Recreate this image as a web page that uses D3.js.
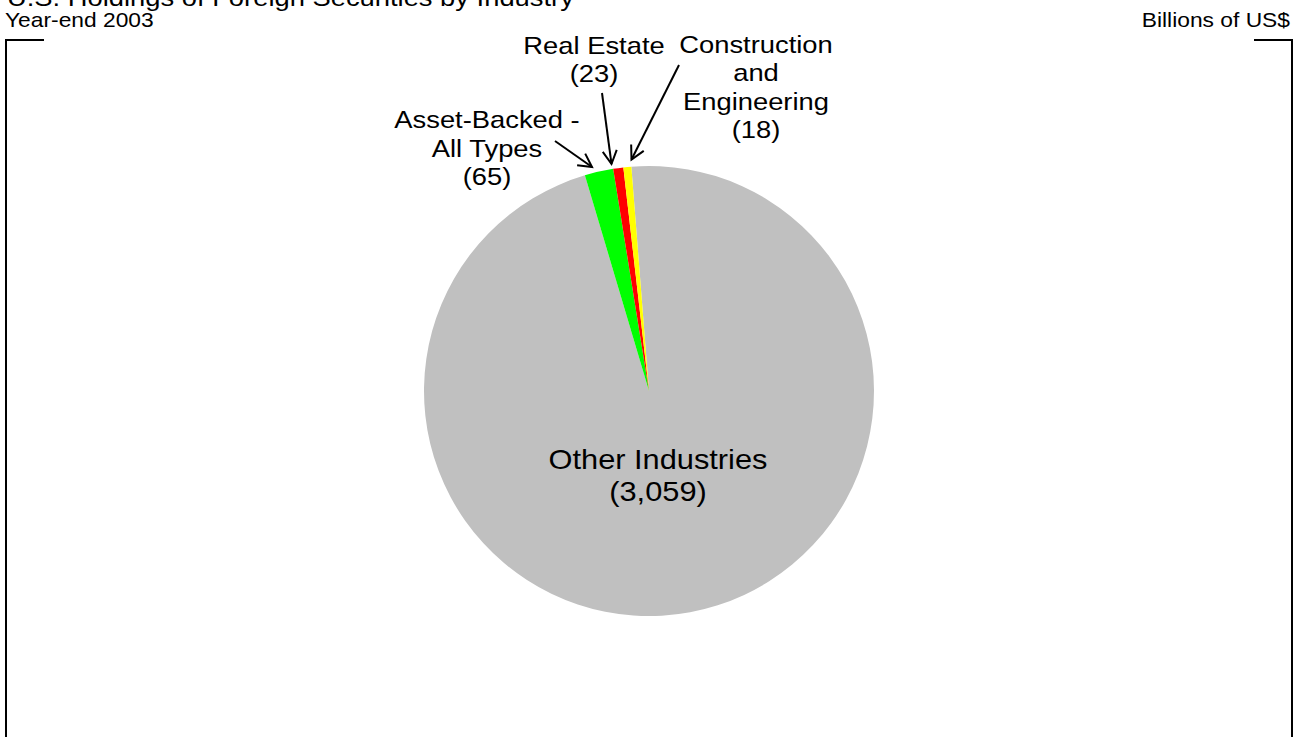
<!DOCTYPE html>
<html>
<head>
<meta charset="utf-8">
<script src="https://cdn.jsdelivr.net/npm/d3@7"></script>
<style>
  body { margin: 0; background: #fff; }
  svg { display: block; }
  text { font-family: "Liberation Sans", Arial, sans-serif; fill: #000; }
</style>
</head>
<body>
<div id="chart"></div>
<script>
/************
*** DATA ***
************/

// slices in drawing order (clockwise from just left of 12 o'clock)
const categories = ["Other Industries", "Asset-Backed - All Types", "Real Estate", "Construction and Engineering"];
const values = [3059, 65, 23, 18];
const sliceColors = ["#c0c0c0", "#00ff00", "#ff0000", "#ffff00"];

// text lines of each label (value line is added from values)
const labelLines = [
  ["Other Industries"],
  ["Asset-Backed -", "All Types"],
  ["Real Estate"],
  ["Construction", "and", "Engineering"]
];

/**************
*** LAYOUT ***
**************/

const W = 1304, H = 737;
const cx = 649, cy = 391, rad = 225;
const startDeg = -4.5;        // where the first slice begins
const sx = 1.14;              // text in the picture is a bit wide

// label anchors: centre x, first baseline, line height, font size
// plus leader arrow (tail -> tip) for the small slices
const labelPos = [
  {x: 658, y: 469, lh: 32, fs: 27, arrow: null},
  {x: 487, y: 128, lh: 28.5, fs: 24, arrow: [[555, 141], [592, 167]]},
  {x: 594, y: 54, lh: 28.3, fs: 24, arrow: [[602, 93], [611.5, 164]]},
  {x: 756, y: 53, lh: 28.3, fs: 24, arrow: [[679, 65], [631.5, 159.5]]}
];

const fmt = d3.format(",");

const svg = d3.select("#chart").append("svg")
  .attr("width", W)
  .attr("height", H);

/*************
*** FRAME ***
*************/

const frame = svg.append("g")
  .attr("fill", "none")
  .attr("stroke", "#000")
  .attr("stroke-width", 2);

frame.append("path").attr("d", "M44,40 H6 V740");
frame.append("path").attr("d", "M1254,40 H1292 V740");

/*************
*** TITLES ***
*************/

function wideText(sel, x, y, size, anchor, str) {
  return sel.append("text")
    .attr("transform", "translate(" + x + "," + y + ") scale(" + sx + ",1)")
    .attr("text-anchor", anchor)
    .attr("font-size", size)
    .text(str);
}

wideText(svg, 7, 6, 24, "start", "U.S. Holdings of Foreign Securities by Industry");
wideText(svg, 5, 27, 20, "start", "Year-end 2003");
wideText(svg, 1290, 27, 20, "end", "Billions of US$");

/**********
*** PIE ***
**********/

const pie = d3.pie()
  .sort(null)
  .value(d => d)
  .startAngle(startDeg * Math.PI / 180)
  .endAngle(startDeg * Math.PI / 180 + 2 * Math.PI);

const arc = d3.arc().innerRadius(0).outerRadius(rad);

const arcs = pie(values);

svg.append("g")
  .attr("transform", "translate(" + cx + "," + cy + ")")
  .selectAll("path")
  .data(arcs)
  .enter()
  .append("path")
    .attr("d", arc)
    .attr("fill", (d, i) => sliceColors[i]);

/*************
*** LABELS ***
*************/

const lab = svg.append("g");

categories.forEach(function(c, i) {
  const p = labelPos[i];
  const lines = labelLines[i].concat(["(" + fmt(values[i]) + ")"]);
  lines.forEach(function(t, j) {
    wideText(lab, p.x, p.y + j * p.lh, p.fs, "middle", t);
  });

  if (p.arrow) {
    const a = p.arrow[0], b = p.arrow[1];
    const ang = Math.atan2(b[1] - a[1], b[0] - a[0]);
    const hl = 15, ha = 28 * Math.PI / 180;
    const g = lab.append("g")
      .attr("stroke", "#000")
      .attr("stroke-width", 2)
      .attr("fill", "none");
    g.append("line")
      .attr("x1", a[0]).attr("y1", a[1])
      .attr("x2", b[0]).attr("y2", b[1]);
    g.append("path")
      .attr("d", "M" + (b[0] - hl * Math.cos(ang - ha)) + "," + (b[1] - hl * Math.sin(ang - ha)) +
        " L" + b[0] + "," + b[1] +
        " L" + (b[0] - hl * Math.cos(ang + ha)) + "," + (b[1] - hl * Math.sin(ang + ha)));
  }
});
</script>
</body>
</html>
